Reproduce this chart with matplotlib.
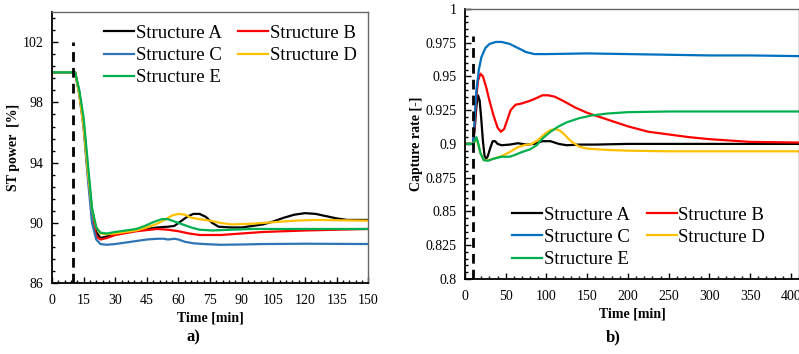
import matplotlib
matplotlib.use("Agg")
import matplotlib.pyplot as plt
from matplotlib.ticker import MultipleLocator, AutoMinorLocator

plt.rcParams['font.family'] = ['Liberation Serif', 'DejaVu Serif']

names = ['Structure A', 'Structure B', 'Structure C', 'Structure D', 'Structure E']
colors_a = ['#000000', '#FF0000', '#2E75B6', '#FFC000', '#00B050']
colors_b = ['#000000', '#FF0000', '#0070C0', '#FFC000', '#00B050']

# panel a) ST power [%] vs time [min]
a_A = [(0, 100), (11, 100), (13, 98.6), (15, 96.6), (17, 93.5), (19, 90.8), (21, 89.4), (23, 89.0),
       (26, 89.1), (30, 89.3), (35, 89.4), (40, 89.5), (45, 89.6), (50, 89.7), (55, 89.75), (58, 89.8),
       (61, 90.1), (64, 90.4), (67, 90.6), (70, 90.6), (73, 90.4), (76, 90.0), (79, 89.75), (85, 89.7),
       (90, 89.7), (95, 89.8), (100, 89.9), (105, 90.1), (110, 90.35), (115, 90.55), (120, 90.65),
       (125, 90.6), (130, 90.45), (135, 90.3), (140, 90.2), (150, 90.2)]
a_B = [(0, 100), (11, 100), (13, 98.6), (15, 96.5), (17, 93.3), (19, 90.5), (21, 89.1), (23, 88.9),
       (26, 89.0), (30, 89.2), (40, 89.45), (50, 89.6), (55, 89.55), (60, 89.45), (65, 89.3), (70, 89.2),
       (80, 89.2), (90, 89.3), (100, 89.4), (120, 89.5), (150, 89.6)]
a_C = [(0, 100), (11, 100), (13, 98.5), (15, 96.3), (17, 93.0), (19, 90.0), (21, 88.9), (23, 88.6),
       (26, 88.55), (30, 88.6), (35, 88.7), (40, 88.8), (45, 88.9), (50, 88.95), (53, 88.95), (55, 88.9),
       (58, 88.95), (60, 88.9), (63, 88.75), (67, 88.65), (72, 88.6), (80, 88.55), (90, 88.57),
       (100, 88.6), (120, 88.62), (150, 88.6)]
a_D = [(0, 100), (11, 100), (13, 98.5), (15, 96.4), (17, 93.4), (19, 90.9), (21, 89.7), (23, 89.3),
       (26, 89.25), (30, 89.3), (35, 89.4), (40, 89.5), (45, 89.7), (50, 89.95), (54, 90.25), (57, 90.5),
       (60, 90.6), (63, 90.55), (66, 90.35), (70, 90.25), (75, 90.15), (80, 90.0), (85, 89.9),
       (95, 89.95), (105, 90.05), (115, 90.15), (125, 90.2), (150, 90.15)]
a_E = [(0, 100), (11, 100), (13, 98.8), (15, 97.0), (17, 94.0), (19, 91.0), (21, 89.7), (23, 89.35),
       (26, 89.3), (30, 89.4), (35, 89.5), (40, 89.6), (44, 89.8), (48, 90.05), (52, 90.25), (55, 90.25),
       (58, 90.1), (62, 89.9), (66, 89.7), (70, 89.55), (76, 89.5), (85, 89.55), (95, 89.6),
       (110, 89.6), (150, 89.6)]

# panel b) capture rate [-] vs time [min]
b_A = [(0, 0.9), (10, 0.9), (12, 0.912), (14, 0.928), (16, 0.936), (18, 0.932), (20, 0.918), (22, 0.902),
       (24, 0.891), (26, 0.889), (28, 0.891), (31, 0.897), (34, 0.902), (37, 0.902), (40, 0.9),
       (45, 0.899), (55, 0.8995), (65, 0.9005), (75, 0.8995), (85, 0.9), (95, 0.902), (105, 0.902),
       (115, 0.9), (125, 0.899), (140, 0.8995), (160, 0.8995), (200, 0.9), (300, 0.9), (410, 0.9)]
b_B = [(0, 0.9), (10, 0.9), (12, 0.915), (14, 0.935), (16, 0.947), (19, 0.952), (22, 0.95), (26, 0.942),
       (30, 0.932), (35, 0.921), (40, 0.912), (44, 0.909), (48, 0.911), (52, 0.918), (56, 0.925),
       (62, 0.929), (70, 0.93), (80, 0.932), (88, 0.934), (95, 0.936), (102, 0.936), (110, 0.935),
       (120, 0.932), (135, 0.927), (150, 0.923), (175, 0.918), (200, 0.913), (225, 0.909), (250, 0.907),
       (275, 0.905), (300, 0.9035), (350, 0.9015), (410, 0.901)]
b_C = [(0, 0.9), (10, 0.9), (12, 0.92), (14, 0.94), (17, 0.955), (20, 0.964), (25, 0.971), (30, 0.974),
       (38, 0.9755), (45, 0.9755), (55, 0.974), (65, 0.971), (75, 0.968), (85, 0.9665), (100, 0.9665),
       (150, 0.967), (200, 0.9665), (250, 0.966), (300, 0.9655), (350, 0.9655), (410, 0.965)]
b_D = [(0, 0.9), (10, 0.9), (12, 0.902), (14, 0.904), (16, 0.9), (19, 0.893), (23, 0.888), (28, 0.888),
       (35, 0.889), (45, 0.891), (55, 0.894), (63, 0.897), (72, 0.899), (82, 0.9), (90, 0.903),
       (97, 0.907), (104, 0.91), (110, 0.911), (116, 0.91), (122, 0.907), (130, 0.902), (140, 0.898),
       (150, 0.8965), (175, 0.8955), (200, 0.895), (250, 0.8945), (410, 0.8945)]
b_E = [(0, 0.9), (10, 0.9), (12, 0.902), (14, 0.905), (16, 0.901), (19, 0.893), (23, 0.888), (28, 0.8875),
       (35, 0.889), (45, 0.8905), (55, 0.8905), (62, 0.892), (70, 0.894), (80, 0.896), (88, 0.899),
       (95, 0.904), (105, 0.909), (115, 0.913), (125, 0.916), (140, 0.919), (155, 0.921), (175, 0.9225),
       (200, 0.9235), (250, 0.924), (410, 0.924)]

event_time = 10
# legend goes row by row: A B / C D / E
legend_order = [0, 2, 4, 1, 3]

fig = plt.figure(figsize=(7.99, 3.54), dpi=100)
ax1 = fig.add_axes([0.065, 0.200, 0.396, 0.766])
ax2 = fig.add_axes([0.582, 0.212, 0.418, 0.763])


def style(ax):
    for s in ['left', 'bottom']:
        ax.spines[s].set_linewidth(1.3)
        ax.spines[s].set_color('black')
    for s in ['top', 'right']:
        ax.spines[s].set_linewidth(1.0)
        ax.spines[s].set_color('#666666')
    ax.tick_params(which='both', direction='in', labelsize=10, width=1.0)
    ax.tick_params(which='major', length=4)
    ax.tick_params(which='minor', length=2.5)
    ax.tick_params(axis='x', pad=8)
    ax.tick_params(axis='y', pad=6)


def add_legend(ax, lines, x, y):
    h = [lines[i] for i in legend_order]
    ax.legend(h, [l.get_label() for l in h], ncol=2, frameon=False, fontsize=13.5, loc='upper left',
              bbox_to_anchor=(x, y), bbox_transform=fig.transFigure, borderpad=0, handlelength=1.6,
              handletextpad=0.1, labelspacing=0.28, columnspacing=0.9)


lines1 = []
for data, c, n in zip([a_A, a_B, a_C, a_D, a_E], colors_a, names):
    ln, = ax1.plot([p[0] for p in data], [p[1] for p in data], color=c, lw=1.6, label=n)
    lines1.append(ln)
ax1.plot([event_time, event_time], [86, 102], color='black', lw=2, ls=(0, (3.5, 2.2)))
ax1.set_xlim(0, 150)
ax1.set_ylim(86, 104)
ax1.xaxis.set_major_locator(MultipleLocator(15))
ax1.xaxis.set_minor_locator(AutoMinorLocator(5))
ax1.set_yticks([86, 90, 94, 98, 102])
ax1.yaxis.set_minor_locator(AutoMinorLocator(5))
style(ax1)
ax1.set_xlabel('Time [min]', fontsize=10, fontweight='bold', labelpad=3)
ax1.set_ylabel('ST power  [%]', fontsize=10, fontweight='bold', labelpad=2)
add_legend(ax1, lines1, 0.118, 0.957)
fig.text(0.242, 0.035, 'a)', fontsize=12, fontweight='bold', ha='center')

lines2 = []
for data, c, n in zip([b_A, b_B, b_C, b_D, b_E], colors_b, names):
    ln, = ax2.plot([p[0] for p in data], [p[1] for p in data], color=c, lw=1.6, label=n)
    lines2.append(ln)
ax2.plot([event_time, event_time], [0.8, 0.98], color='black', lw=2, ls=(0, (3.5, 2.2)))
ax2.set_xlim(0, 410)
ax2.set_ylim(0.8, 1.0)
ax2.xaxis.set_major_locator(MultipleLocator(50))
ax2.xaxis.set_minor_locator(AutoMinorLocator(5))
ax2.set_yticks([0.8, 0.825, 0.85, 0.875, 0.9, 0.925, 0.95, 0.975, 1.0])
ax2.set_yticklabels(['0.8', '0.825', '0.85', '0.875', '0.9', '0.925', '0.95', '0.975', '1'])
ax2.yaxis.set_minor_locator(AutoMinorLocator(5))
style(ax2)
ax2.set_xlabel('Time [min]', fontsize=10, fontweight='bold', labelpad=3)
ax2.set_ylabel('Capture rate [-]', fontsize=10, fontweight='bold', labelpad=2)
add_legend(ax2, lines2, 0.629, 0.443)
fig.text(0.767, 0.035, 'b)', fontsize=12, fontweight='bold', ha='center')

fig.savefig('out.png', dpi=100)
